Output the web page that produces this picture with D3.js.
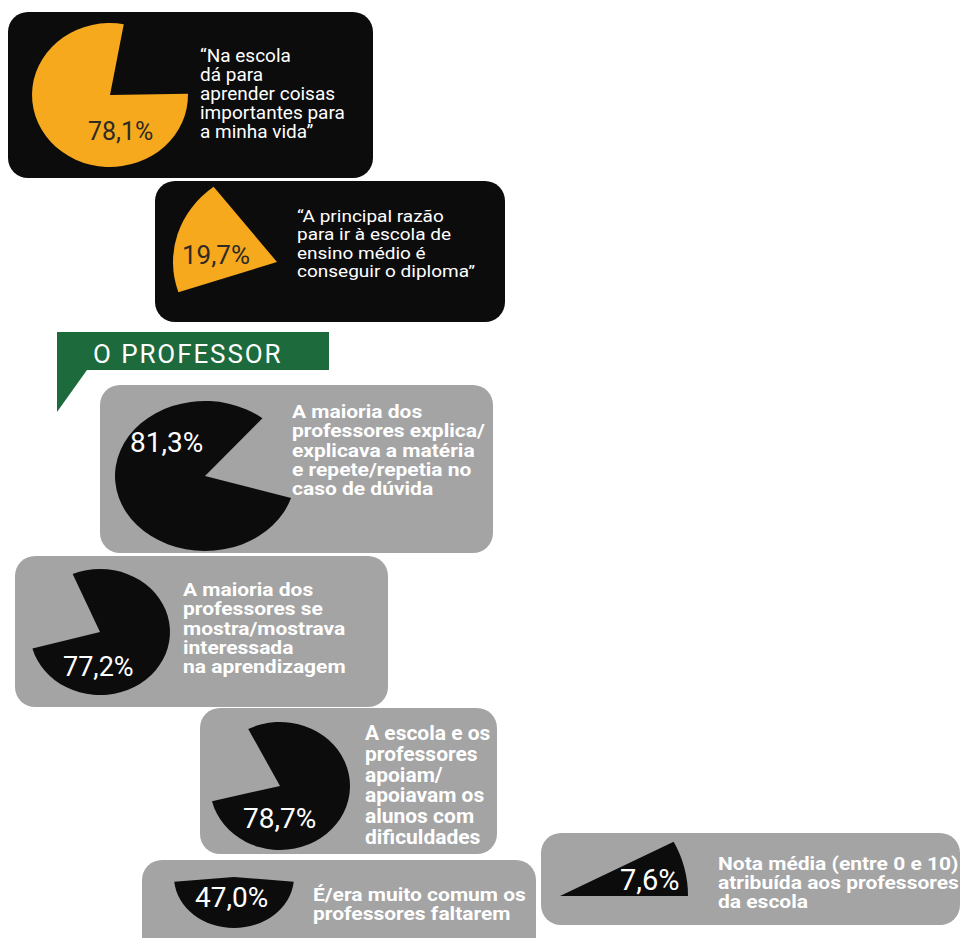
<!DOCTYPE html>
<html><head><meta charset="utf-8">
<script src="https://cdn.jsdelivr.net/npm/d3@7"></script>
<style>html,body{margin:0;padding:0;background:#fff;} svg{display:block}</style>
</head><body><svg id="c" width="961" height="938"></svg>
<script>
// ---- data ----
const percents = [78.1, 19.7, 81.3, 77.2, 78.7, 47.0, 7.6];
const statements = [
  ["“Na escola", "dá para", "aprender coisas", "importantes para", "a minha vida”"],
  ["“A principal razão", "para ir à escola de", "ensino médio é", "conseguir o diploma”"],
  ["A maioria dos", "professores explica/", "explicava a matéria", "e repete/repetia no", "caso de dúvida"],
  ["A maioria dos", "professores se", "mostra/mostrava", "interessada", "na aprendizagem"],
  ["A escola e os", "professores", "apoiam/", "apoiavam os", "alunos com", "dificuldades"],
  ["É/era muito comum os", "professores faltarem"],
  ["Nota média (entre 0 e 10)", "atribuída aos professores", "da escola"]
];
const groups = ["aluno", "aluno", "professor", "professor", "professor", "professor", "professor"];
const sectionTitle = "O PROFESSOR";

// ---- layout (positions / sizes only) ----
const layout = [
  {card:[8,12,365,166],   pie:[110,95,78,72],   start:89,    label:[88,140,25],  text:[200,62,19]},
  {card:[155,181,350,141],pie:[277,262,104,95], start:251.5, label:[182,264,26], text:[297,222,18.5]},
  {card:[100,385,393,168],pie:[205,476,90,75],  start:107,   label:[130,452,28], text:[292,418,19.3]},
  {card:[15,556,373,151], pie:[100,632,70,63],  start:-23,   label:[63,676,27],  text:[183,596,19.3]},
  {card:[200,708,297,146],pie:[280,786,70,64],  start:-27,   label:[243,828,28], text:[365,740,20.8]},
  {card:[142,860,394,110],pie:[234,877,60,51],  start:95.4,  label:[195,907,28], text:[313,901,19]},
  {card:[541,833,419,92], pie:[560,896,128,118],start:62.64, label:[620,890,29], text:[718,870,19]}
];
const styles = {
  aluno:     {card:"#0c0c0c", pie:"#f6a91d", label:"#2e2a24", text:"#ffffff", weight:400, size:19},
  professor: {card:"#a4a4a4", pie:"#0c0c0c", label:"#ffffff", text:"#ffffff", weight:700, size:21}
};

const fmt = d3.formatLocale({decimal:",", thousands:".", grouping:[3], currency:["",""]}).format(".1f");
const svg = d3.select("#c");
const FONT = "Roboto, 'Open Sans', sans-serif";

// section banner
const banner = svg.append("g");
banner.append("path")
  .attr("d", "M57,332 H329 V370 H87 L57,412 Z")
  .attr("fill", "#1d6a3d");
banner.append("text")
  .attr("x", 93).attr("y", 363)
  .attr("font-family", FONT).attr("font-size", 26).attr("letter-spacing", 1.9)
  .attr("fill", "#fff").text(sectionTitle);

const arc = d3.arc().innerRadius(0);
const pie = d3.pie().sort(null).value(d => d);

percents.forEach((v, i) => {
  const L = layout[i], S = styles[groups[i]];
  const g = svg.append("g");
  const [x, y, w, h] = L.card;
  g.append("rect").attr("x", x).attr("y", y).attr("width", w).attr("height", h)
    .attr("rx", 20).attr("ry", 20).attr("fill", S.card);

  const [cx, cy, rx, ry] = L.pie;
  const a0 = L.start * Math.PI / 180;
  const arcs = pie.startAngle(a0).endAngle(a0 + 2 * Math.PI)([v, 100 - v]);
  g.append("path")
    .attr("d", arc.outerRadius(ry)(arcs[0]))
    .attr("transform", `translate(${cx},${cy}) scale(${rx / ry},1)`)
    .attr("fill", S.pie);

  g.append("text")
    .attr("x", L.label[0]).attr("y", L.label[1])
    .attr("font-family", FONT).attr("font-size", L.label[2]).attr("font-weight", 400)
    .attr("fill", S.label).text(fmt(v) + "%");

  // tight leading: keep font-size under the line step, widen horizontally to match
  const [tx, ty, step] = L.text;
  const fs = Math.min(S.size, step * 0.94);
  const sx = S.size / fs;
  const t = g.append("text")
    .attr("transform", `translate(${tx},${ty}) scale(${sx},1)`)
    .attr("font-family", FONT).attr("font-size", fs).attr("font-weight", S.weight)
    .attr("fill", S.text);
  statements[i].forEach((line, k) => {
    t.append("tspan").attr("x", 0).attr("y", k * step).text(line);
  });
});
</script></body></html>
